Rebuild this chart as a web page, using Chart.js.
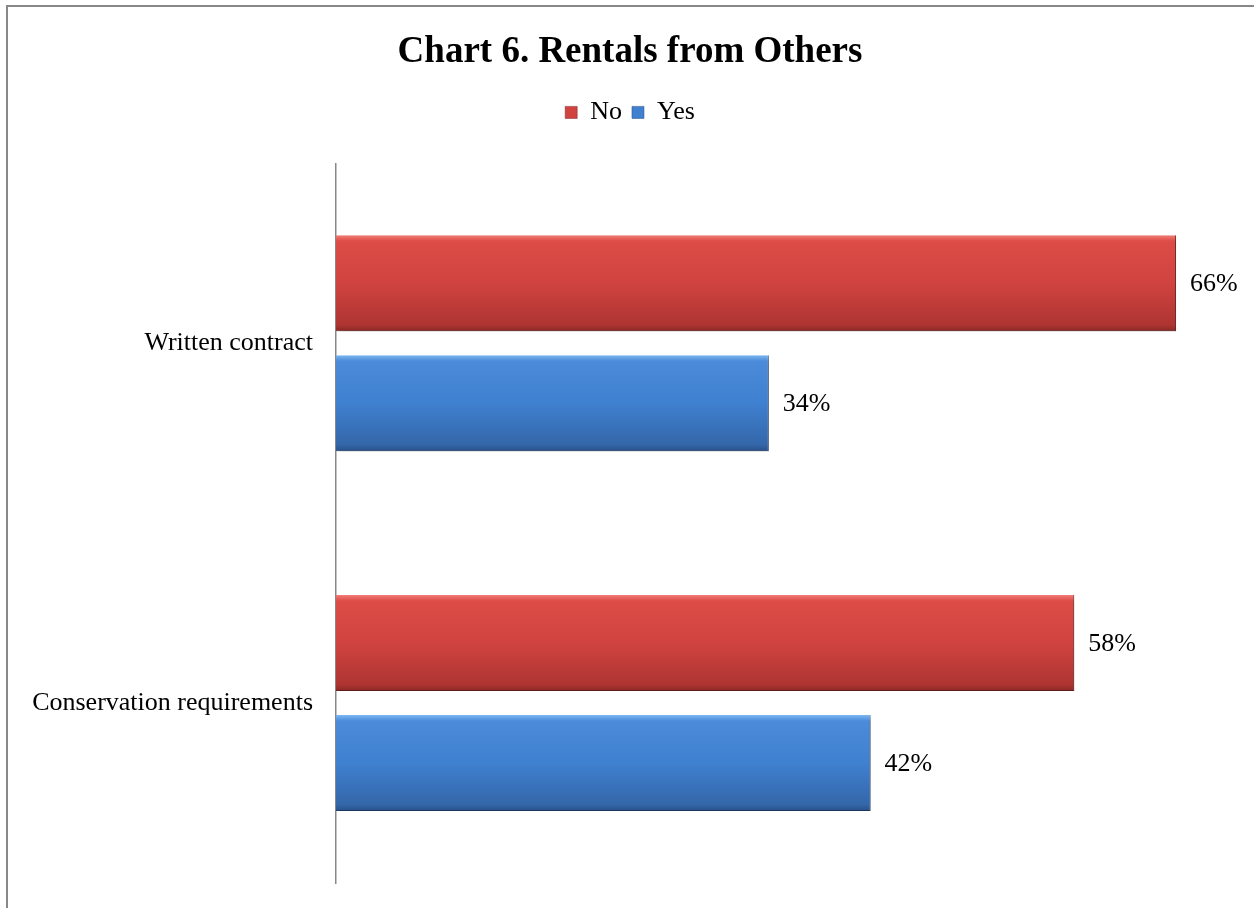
<!DOCTYPE html>
<html>
<head>
<meta charset="utf-8">
<script src="https://cdn.jsdelivr.net/npm/chart.js@4"></script>
<style>
  html, body { margin: 0; padding: 0; background: #fff; overflow: hidden; }
  #wrap { position: absolute; left: 0; top: 0; width: 1254px; height: 908px; }
</style>
</head>
<body>
<div id="wrap"><canvas id="grafico"></canvas></div>
<script>
// dados do gráfico
var categorias = ['Written contract', 'Conservation requirements'];
var valoresNo = [66, 58];
var valoresYes = [34, 42];

var serif = "'Liberation Serif', 'Times New Roman', serif";

// cores em gradiente de cada série (efeito 3D)
var paradasNo = [[0, '#f27c76'], [0.06, '#dd4c47'], [0.5, '#d0433f'], [0.93, '#ae3532'], [1, '#8a2826']];
var paradasYes = [[0, '#7cb6f2'], [0.06, '#4b8bd9'], [0.5, '#3f80d0'], [0.93, '#3467aa'], [1, '#29508a']];

// fundo + moldura cinza
var moldura = {
    id: 'moldura',
    beforeDraw: function (chart) {
        var ctx = chart.ctx;
        ctx.save();
        ctx.fillStyle = '#fff';
        ctx.fillRect(0, 0, chart.width, chart.height);
        ctx.strokeStyle = '#888';
        ctx.lineWidth = 2;
        ctx.beginPath();
        ctx.moveTo(7, chart.height);
        ctx.lineTo(7, 6);
        ctx.lineTo(chart.width, 6);
        ctx.stroke();
        ctx.restore();
    }
};

// aplica gradiente vertical a cada barra e sombra
var gradienteBarras = {
    id: 'gradienteBarras',
    beforeDatasetsDraw: function (chart) {
        var ctx = chart.ctx;
        chart.data.datasets.forEach(function (ds, i) {
            var meta = chart.getDatasetMeta(i);
            var paradas = i === 0 ? paradasNo : paradasYes;
            meta.data.forEach(function (el) {
                var topo = el.y - el.height / 2;
                var g = ctx.createLinearGradient(0, topo, 0, topo + el.height);
                paradas.forEach(function (p) { g.addColorStop(p[0], p[1]); });
                el.options.backgroundColor = g;
            });
        });
    },
    beforeDatasetDraw: function (chart) {
        var ctx = chart.ctx;
        ctx.save();
        ctx.shadowColor = 'rgba(0,0,0,0.35)';
        ctx.shadowBlur = 5;
        ctx.shadowOffsetX = 2;
        ctx.shadowOffsetY = 3;
    },
    afterDatasetDraw: function (chart) {
        chart.ctx.restore();
    }
};

// rótulos de porcentagem
var rotulos = {
    id: 'rotulos',
    afterDatasetsDraw: function (chart) {
        var ctx = chart.ctx;
        ctx.save();
        ctx.font = '26px ' + serif;
        ctx.fillStyle = '#000';
        ctx.textAlign = 'left';
        ctx.textBaseline = 'middle';
        chart.data.datasets.forEach(function (ds, i) {
            var meta = chart.getDatasetMeta(i);
            meta.data.forEach(function (el, j) {
                ctx.fillText(ds.data[j] + '%', el.x + 14, el.y + 1);
            });
        });
        ctx.restore();
    }
};

var ctx = document.getElementById('grafico').getContext('2d');

var grafico = new Chart(ctx, {
    type: 'bar',
    data: {
        labels: categorias,
        datasets: [
            {
                label: 'No',
                data: valoresNo,
                backgroundColor: function () { return '#d0433f'; },
                borderColor: '#7e2422',
                borderWidth: { top: 0, left: 0, right: 1, bottom: 1 },
                borderSkipped: false,
                categoryPercentage: 0.667,
                barPercentage: 0.8
            },
            {
                label: 'Yes',
                data: valoresYes,
                backgroundColor: function () { return '#3f80d0'; },
                borderColor: '#244a80',
                borderWidth: { top: 0, left: 0, right: 1, bottom: 1 },
                borderSkipped: false,
                categoryPercentage: 0.667,
                barPercentage: 0.8
            }
        ]
    },
    options: {
        indexAxis: 'y',
        responsive: true,
        maintainAspectRatio: false,
        animation: false,
        layout: { padding: { left: 33, right: 27, top: 0, bottom: 25 } },
        plugins: {
            title: {
                display: true,
                text: 'Chart 6. Rentals from Others',
                color: '#000',
                font: { family: serif, size: 37, weight: 'bold' },
                padding: { top: 30, bottom: 15 }
            },
            legend: {
                display: true,
                labels: {
                    color: '#000',
                    font: { family: serif, size: 26 },
                    boxWidth: 12,
                    boxHeight: 12,
                    padding: 10
                }
            },
            tooltip: { enabled: false }
        },
        scales: {
            x: {
                position: 'top',
                min: 0,
                max: 70,
                grid: { display: false },
                border: { display: false },
                ticks: { display: false },
                afterFit: function (s) { s.height = 28; }
            },
            y: {
                grid: { display: false, drawTicks: false },
                border: { display: true, color: '#888', width: 1.5 },
                ticks: {
                    color: '#000',
                    font: { family: serif, size: 26 },
                    padding: 23
                },
                afterFit: function (s) {
                    s.width = 303;
                    s.paddingTop = 0;
                    s.paddingBottom = 0;
                }
            }
        }
    },
    plugins: [moldura, gradienteBarras, rotulos]
});
</script>
</body>
</html>
